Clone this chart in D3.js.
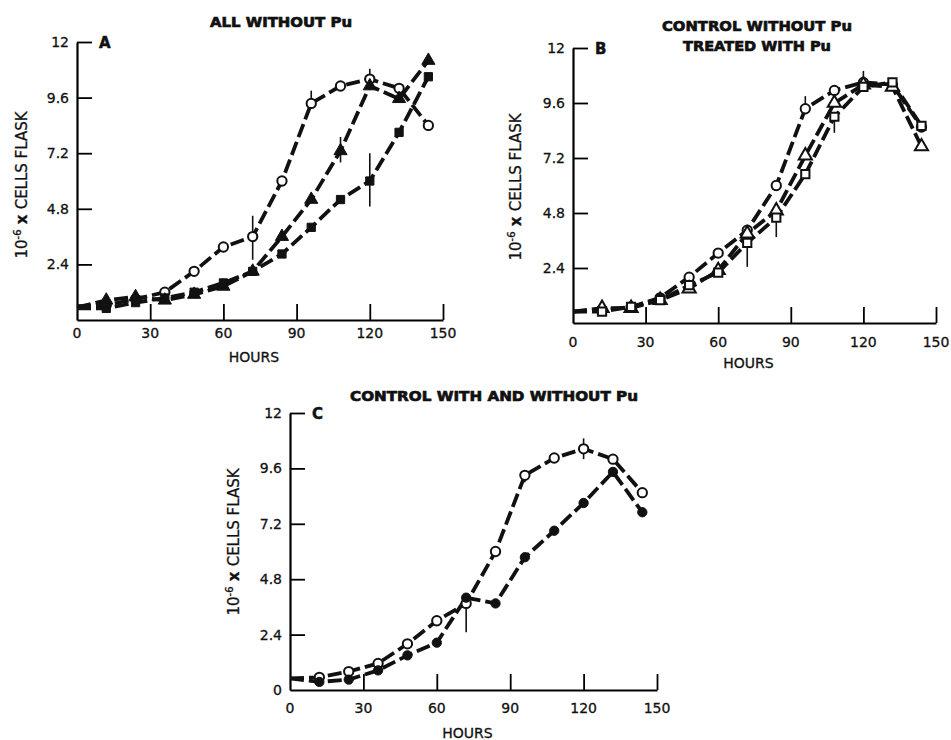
<!DOCTYPE html>
<html>
<head>
<meta charset="utf-8">
<script src="https://cdn.jsdelivr.net/npm/d3@7"></script>
<style>
  html, body { margin: 0; padding: 0; background: #fff; }
  svg { display: block; }
  .tick-label { font-family: "DejaVu Sans", sans-serif; font-size: 14px; fill: #111; stroke: #111; stroke-width: 0.3px; }
  .title { font-family: "DejaVu Sans", sans-serif; font-weight: bold; font-size: 14px; fill: #111; stroke: #111; stroke-width: 0.7px; }
  .letter { font-family: "DejaVu Sans", sans-serif; font-weight: bold; font-size: 15px; fill: #111; stroke: #111; stroke-width: 0.5px; }
  .ylab { font-family: "DejaVu Sans", sans-serif; font-size: 15px; fill: #111; stroke: #111; stroke-width: 0.3px; }
</style>
</head>
<body>
<div id="chart"></div>
<script>
// Cell growth curves, three panels (A, B, C).
const hours = [0, 12, 24, 36, 48, 60, 72, 84, 96, 108, 120, 132, 144];
const xTicks = [0, 30, 60, 90, 120, 150];
const yTicks = [2.4, 4.8, 7.2, 9.6, 12];
const yTickLabels = ['2.4', '4.8', '7.2', '9.6', '12'];

// panel A: all without Pu
const aOpenCircle = [0.6, 0.65, 0.9, 1.2, 2.1, 3.15, 3.6, 6.0, 9.35, 10.1, 10.4, 10.0, 8.4];
const aFilledTriangle = [0.55, 0.85, 1.0, 0.85, 1.1, 1.45, 2.1, 3.6, 5.2, 7.3, 10.1, 9.55, 11.2];
const aFilledSquare = [0.5, 0.5, 0.75, 0.95, 1.2, 1.6, 2.1, 2.85, 4.0, 5.2, 6.0, 8.1, 10.5];
const aErrors = [[72, 2.6, 4.5], [96, 9.35, 9.9], [120, 10.4, 10.85], [108, 6.8, 7.9], [120, 4.9, 7.2]];

// panel B: control without Pu, treated with Pu
const bOpenCircle = [0.5, 0.57, 0.7, 1.1, 2.0, 3.05, 4.05, 6.0, 9.35, 10.15, 10.5, 10.4, 8.55];
const bOpenTriangle = [0.5, 0.65, 0.65, 1.0, 1.5, 2.3, 3.9, 4.9, 7.3, 9.6, 10.4, 10.3, 7.7];
const bOpenSquare = [0.5, 0.5, 0.7, 1.0, 1.65, 2.2, 3.5, 4.6, 6.5, 9.0, 10.3, 10.5, 8.6];
const bErrors = [[72, 2.45, 4.05], [84, 3.75, 4.6], [108, 8.3, 9.0], [96, 9.35, 9.9], [120, 10.5, 11.0]];

// panel C: control with and without Pu
const cOpenCircle = [0.5, 0.55, 0.8, 1.15, 2.0, 3.0, 3.75, 6.0, 9.3, 10.05, 10.45, 10.0, 8.55];
const cFilledCircle = [0.5, 0.35, 0.45, 0.85, 1.5, 2.05, 4.0, 3.75, 5.75, 6.9, 8.1, 9.45, 7.7];
const cErrors = [[72, 2.5, 3.75], [120, 10.0, 10.9], [96, 9.0, 9.5]];

const panels = [
  {
    x0: 77, x1: 443, y0: 320, y1: 42, letter: 'A', zeroLabel: false,
    titles: [{ text: 'ALL WITHOUT Pu', x: 281, y: 27, len: 142 }],
    ylab: { x: 27, y: 185 }, xLabY: 338, hoursY: 362,
    series: [
      { values: aOpenCircle, shape: 'circle', fill: false },
      { values: aFilledTriangle, shape: 'triangle', fill: true },
      { values: aFilledSquare, shape: 'square', fill: true },
    ],
    errors: aErrors,
  },
  {
    x0: 573, x1: 936, y0: 323, y1: 48, letter: 'B', zeroLabel: false,
    titles: [
      { text: 'CONTROL WITHOUT Pu', x: 757, y: 31, len: 190 },
      { text: 'TREATED WITH Pu', x: 757, y: 51, len: 148 },
    ],
    ylab: { x: 521, y: 187 }, xLabY: 347, hoursY: 368,
    series: [
      { values: bOpenCircle, shape: 'circle', fill: false },
      { values: bOpenTriangle, shape: 'triangle', fill: false },
      { values: bOpenSquare, shape: 'square', fill: false },
    ],
    errors: bErrors,
  },
  {
    x0: 290, x1: 657, y0: 690, y1: 413, letter: 'C', zeroLabel: true,
    titles: [{ text: 'CONTROL WITH AND WITHOUT Pu', x: 494, y: 401, len: 288 }],
    ylab: { x: 239, y: 542 }, xLabY: 713, hoursY: 738,
    series: [
      { values: cOpenCircle, shape: 'circle', fill: false },
      { values: cFilledCircle, shape: 'circle', fill: true },
    ],
    errors: cErrors,
  },
];

const svg = d3.select('#chart').append('svg')
  .attr('width', 951).attr('height', 740);

function drawPanel(p) {
  const g = svg.append('g');
  const x = d3.scaleLinear().domain([0, 150]).range([p.x0, p.x1]);
  const y = d3.scaleLinear().domain([0, 12]).range([p.y0, p.y1]);

  // x axis with inward ticks
  const xAxis = g.append('g').attr('transform', `translate(0,${p.y0})`)
    .call(d3.axisBottom(x).tickValues(xTicks).tickSize(-16).tickSizeOuter(0).tickFormat(''));
  xAxis.select('.domain').attr('stroke-width', 2.2);
  xAxis.selectAll('.tick line').attr('stroke-width', 1.8);
  xAxis.selectAll('.tick').filter(d => d === 0).remove();

  const yAxis = g.append('g').attr('transform', `translate(${p.x0},0)`)
    .call(d3.axisLeft(y).tickValues(yTicks).tickSize(-15).tickSizeOuter(0).tickFormat(''));
  yAxis.select('.domain').attr('stroke-width', 2.2);
  yAxis.selectAll('.tick line').attr('stroke-width', 1.8);

  g.selectAll('.xl').data(xTicks).join('text')
    .attr('class', 'tick-label')
    .attr('x', d => x(d)).attr('y', p.xLabY)
    .attr('text-anchor', 'middle').text(d => d);

  const yl = p.zeroLabel ? [0, ...yTicks] : yTicks;
  const ylt = p.zeroLabel ? ['0', ...yTickLabels] : yTickLabels;
  g.selectAll('.yl').data(yl).join('text')
    .attr('class', 'tick-label')
    .attr('x', p.x0 - 8).attr('y', d => y(d) + 5)
    .attr('text-anchor', 'end').text((d, i) => ylt[i]);

  g.append('text').attr('class', 'tick-label')
    .attr('x', (x(0) + x(150)) / 2 - 6).attr('y', p.hoursY)
    .attr('text-anchor', 'middle').text('HOURS');

  g.append('text').attr('class', 'letter')
    .attr('x', p.x0 + 22).attr('y', y(12) + 6).text(p.letter);

  p.titles.forEach(t => {
    g.append('text').attr('class', 'title')
      .attr('x', t.x - t.len / 2).attr('y', t.y)
      .attr('textLength', t.len).attr('lengthAdjust', 'spacingAndGlyphs')
      .text(t.text);
  });

  const yt = g.append('text').attr('class', 'ylab')
    .attr('transform', `translate(${p.ylab.x},${p.ylab.y}) rotate(-90)`)
    .attr('text-anchor', 'middle');
  yt.append('tspan').text('10');
  yt.append('tspan').attr('dy', -6).attr('font-size', 10).text('-6');
  yt.append('tspan').attr('dy', 6).attr('font-weight', 'bold').text(' x ');
  yt.append('tspan').text('CELLS FLASK');

  // error bars
  g.selectAll('.err').data(p.errors).join('line')
    .attr('x1', d => x(d[0])).attr('x2', d => x(d[0]))
    .attr('y1', d => y(d[1])).attr('y2', d => y(d[2]))
    .attr('stroke', '#111').attr('stroke-width', 1.6);

  const line = d3.line().x((d, i) => x(hours[i])).y(d => y(d));

  p.series.forEach(s => {
    g.append('path').datum(s.values)
      .attr('d', line)
      .attr('fill', 'none').attr('stroke', '#111')
      .attr('stroke-width', 3.8).attr('stroke-dasharray', '14,5');
  });

  p.series.forEach(s => {
    const pts = s.values.map((v, i) => [hours[i], v]).filter(d => d[0] > 0);
    const sym = s.shape === 'triangle' ? d3.symbolTriangle : s.shape === 'square' ? d3.symbolSquare : d3.symbolCircle;
    const size = s.shape === 'triangle' ? 75 : 68;
    g.selectAll(null).data(pts).join('path')
      .attr('transform', d => `translate(${x(d[0])},${y(d[1])})`)
      .attr('d', d3.symbol().type(sym).size(size))
      .attr('fill', s.fill ? '#111' : '#fff')
      .attr('stroke', '#111').attr('stroke-width', s.fill ? 1 : 2);
  });
}

panels.forEach(drawPanel);
</script>
</body>
</html>
